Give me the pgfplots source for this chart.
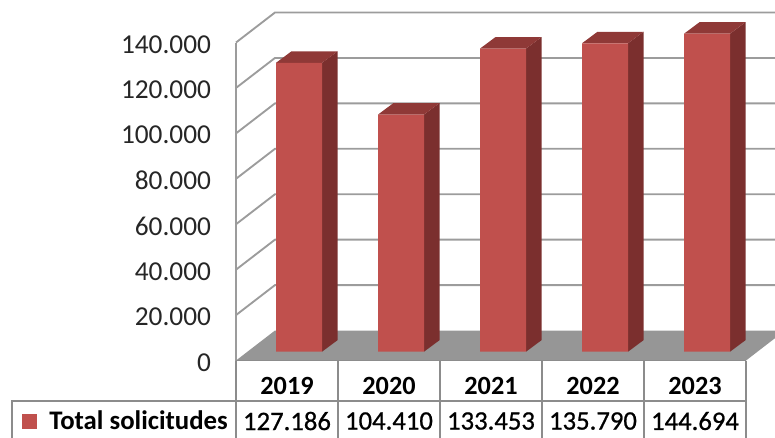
\documentclass[border=0pt]{standalone}
\usepackage{fontspec}
\setmainfont{Carlito}
\newfontfamily\semibold[FakeBold=0.7]{Carlito}
\usepackage{pgfplots}
\usepackage{pgfplotstable}
\pgfplotsset{compat=1.18}

\definecolor{barfront}{HTML}{C0504D}
\definecolor{barside}{HTML}{7B2F2E}
\definecolor{bartop}{HTML}{8F3937}
\definecolor{floorgray}{HTML}{969696}
\definecolor{wallgray}{HTML}{9C9C9C}
\definecolor{tablegray}{HTML}{8C8C8C}

% 1 px of the reference = 0.75pt here
\pgfplotstableread{
x year total
0 2019 127186
1 2020 104410
2 2021 133453
3 2022 135790
4 2023 144694
}\solicitudes

\pgfplotsset{
  common/.style={
    scale only axis, width=382.5pt, height=238.5pt,
    xmin=-0.5, xmax=4.5, ymin=0, ymax=140000,
    clip=false, enlargelimits=false,
  },
}

\begin{document}
\begin{tikzpicture}
\useasboundingbox (0,0) rectangle (581.25pt,328.5pt);

% walls, floor and data table
\begin{axis}[
    common,
    at={(177pt,58.1pt)}, anchor=south west,
    axis line style={draw=none},
    tick style={draw=none},
    scaled y ticks=false,
    xtick={0,1,2,3,4},
    xticklabels={2019,2020,2021,2022,2023},
    xticklabel style={font=\fontsize{19.7}{19.7}\selectfont\bfseries, anchor=center, yshift=-19pt},
    ytick={0,20000,40000,60000,80000,100000,120000,140000},
    yticklabels={0,20.000,40.000,60.000,80.000,100.000,120.000,140.000},
    yticklabel style={font=\fontsize{20.5}{20.5}\selectfont, anchor=east, xshift=-15.2pt, yshift=-1.3pt, text=black!85},
]
\addplot[fill=floorgray, draw=none] coordinates {
  (-0.5,0) (4.5,0) (4.784,9824) (4.784,13208) (-0.118,13208)} -- cycle;

\addplot[wallgray, line width=1.4pt] coordinates {(-0.5,0) (-0.5,140000)};
\addplot[wallgray, line width=1.4pt] coordinates {(-0.5,20000) (-0.118,33208) (4.784,33208)};
\addplot[wallgray, line width=1.4pt] coordinates {(-0.5,40000) (-0.118,53208) (4.784,53208)};
\addplot[wallgray, line width=1.4pt] coordinates {(-0.5,60000) (-0.118,73208) (4.784,73208)};
\addplot[wallgray, line width=1.4pt] coordinates {(-0.5,80000) (-0.118,93208) (4.784,93208)};
\addplot[wallgray, line width=1.4pt] coordinates {(-0.5,100000) (-0.118,113208) (4.784,113208)};
\addplot[wallgray, line width=1.4pt] coordinates {(-0.5,120000) (-0.118,133208) (4.784,133208)};
\addplot[wallgray, line width=1.4pt] coordinates {(-0.5,140000) (-0.118,153208) (4.784,153208)};

% table rules
\addplot[tablegray, line width=1.2pt] coordinates {(-0.5,0) (-0.5,-34120)};
\addplot[tablegray, line width=1.2pt] coordinates {(0.5,0) (0.5,-34120)};
\addplot[tablegray, line width=1.2pt] coordinates {(1.5,0) (1.5,-34120)};
\addplot[tablegray, line width=1.2pt] coordinates {(2.5,0) (2.5,-34120)};
\addplot[tablegray, line width=1.2pt] coordinates {(3.5,0) (3.5,-34120)};
\addplot[tablegray, line width=1.2pt] coordinates {(4.5,0) (4.5,-34120)};
\addplot[tablegray, line width=1.2pt] coordinates {(-0.5,0) (4.5,0)};
\addplot[tablegray, line width=1.2pt] coordinates {(-2.696,-34120) (-2.696,-17830) (4.5,-17830)};

% legend key and value row
\addplot[only marks, mark=square*, mark size=5.2pt, color=barfront] coordinates {(-2.529,-26635)};
\node[anchor=west, font=\fontsize{20.1}{20.1}\selectfont\bfseries, inner sep=0pt] at (axis cs:-2.333,-26200) {Total solicitudes};
\node[font=\fontsize{20}{20}\selectfont\semibold] at (axis cs:0,-26635) {127.186};
\node[font=\fontsize{20}{20}\selectfont\semibold] at (axis cs:1,-26635) {104.410};
\node[font=\fontsize{20}{20}\selectfont\semibold] at (axis cs:2,-26635) {133.453};
\node[font=\fontsize{20}{20}\selectfont\semibold] at (axis cs:3,-26635) {135.790};
\node[font=\fontsize{20}{20}\selectfont\semibold] at (axis cs:4,-26635) {144.694};
\end{axis}

% bars stand a little inside the floor; axis limits cut the last one at 140.000
\begin{axis}[
    common,
    at={(186pt,64.7pt)}, anchor=south west,
    hide axis,
]
% side faces
\addplot[fill=barside, draw=none] coordinates {(0.2255,0) (0.3775,5079) (0.3775,132265) (0.2255,127186)} -- cycle;
\addplot[fill=barside, draw=none] coordinates {(1.2255,0) (1.3775,5079) (1.3775,109489) (1.2255,104410)} -- cycle;
\addplot[fill=barside, draw=none] coordinates {(2.2255,0) (2.3775,5079) (2.3775,138532) (2.2255,133453)} -- cycle;
\addplot[fill=barside, draw=none] coordinates {(3.2255,0) (3.3775,5079) (3.3775,140869) (3.2255,135790)} -- cycle;
\addplot[fill=barside, draw=none] coordinates {(4.2255,0) (4.3775,5079) (4.3775,145079) (4.2255,140000)} -- cycle;
% top faces
\addplot[fill=bartop, draw=none] coordinates {(-0.2255,127186) (0.2255,127186) (0.3775,132265) (-0.0735,132265)} -- cycle;
\addplot[fill=bartop, draw=none] coordinates {(0.7745,104410) (1.2255,104410) (1.3775,109489) (0.9265,109489)} -- cycle;
\addplot[fill=bartop, draw=none] coordinates {(1.7745,133453) (2.2255,133453) (2.3775,138532) (1.9265,138532)} -- cycle;
\addplot[fill=bartop, draw=none] coordinates {(2.7745,135790) (3.2255,135790) (3.3775,140869) (2.9265,140869)} -- cycle;
\addplot[fill=bartop, draw=none] coordinates {(3.7745,140000) (4.2255,140000) (4.3775,145079) (3.9265,145079)} -- cycle;
% front faces
\addplot[ybar, bar width=34.5pt, bar shift=0pt, fill=barfront, draw=none,
  restrict y to domain*=0:140000] table[x=x, y=total] {\solicitudes};
\end{axis}
\end{tikzpicture}
\end{document}
